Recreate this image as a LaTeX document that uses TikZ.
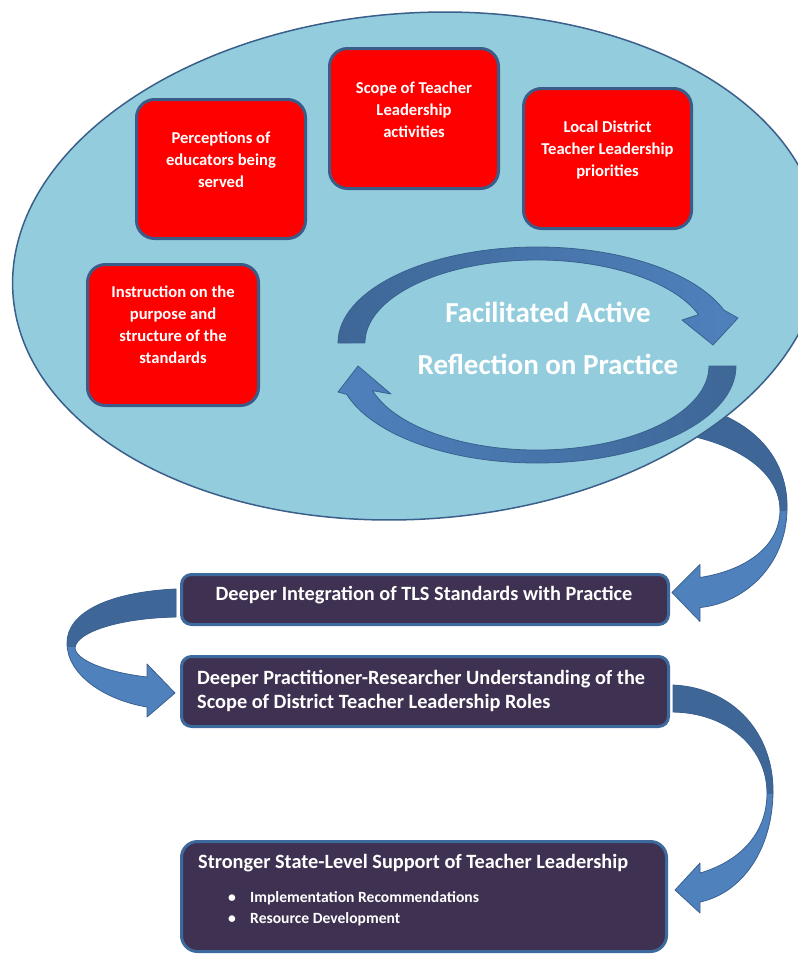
\documentclass[tikz,border=0pt]{standalone}
\usepackage{fontspec}
\setmainfont{Carlito}
\usetikzlibrary{shapes.geometric,calc}
\definecolor{ellfill}{HTML}{93CDDD}
\definecolor{ellline}{HTML}{3A5F8B}
\definecolor{boxred}{HTML}{FF0000}
\definecolor{redline}{HTML}{3B5C88}
\definecolor{boxpurple}{HTML}{3F3151}
\definecolor{purpleline}{HTML}{3D6A9C}
\definecolor{arrdark}{HTML}{3E6797}
\definecolor{arrlight}{HTML}{4F81BD}
\definecolor{arrline}{HTML}{3A6190}
\begin{document}
\begin{tikzpicture}[x=1pt,y=-1pt,
  redbox/.style={draw=redline, line width=3pt, fill=boxred, rounded corners=18pt, inner sep=0pt},
  redtext/.style={text=white, font=\bfseries\fontsize{16.6}{22}\selectfont, align=center, inner sep=0pt},
  darkbox/.style={draw=purpleline, line width=3pt, fill=boxpurple, rounded corners=10pt, inner sep=0pt},
  darktext/.style={text=white, font=\bfseries\fontsize{20.3}{24}\selectfont, inner sep=0pt},
  itemtext/.style={text=white, font=\bfseries\fontsize{15.6}{18}\selectfont, inner sep=0pt},
  bigtext/.style={text=white, font=\bfseries\fontsize{29}{52}\selectfont, inner sep=0pt},
  blockarrow/.style={draw=arrline, line width=0.8pt, line join=round}]
\useasboundingbox (0,0) rectangle (798,956);

% ---------- lower boxes ----------
\node[darkbox, minimum width=487pt, minimum height=50pt] (bA) at (425,599.5) {};
\node[darkbox, minimum width=487pt, minimum height=70pt] (bB) at (425,691.5) {};
\node[darkbox, minimum width=485pt, minimum height=110pt, rounded corners=16pt] (bC) at (424,896.5) {};

\node[darktext, anchor=base] (tA) at (424,600) {Deeper Integration of TLS Standards with Practice};
\node[darktext, anchor=base west] (tB1) at (197,684) {Deeper Practitioner-Researcher Understanding of the};
\node[darktext, anchor=base west] (tB2) at (197,708) {Scope of District Teacher Leadership Roles};
\node[darktext, anchor=base west] (tC) at (198,868) {Stronger State-Level Support of Teacher Leadership};
\node[itemtext, anchor=base west] (iC1) at (228,902) {\makebox[22pt][l]{\textbullet}Implementation Recommendations};
\node[itemtext, anchor=base west] (iC2) at (228,923) {\makebox[22pt][l]{\textbullet}Resource Development};

% ---------- connector: ellipse -> box A (behind the ellipse) ----------
\coordinate (c1start) at (640,415);
\coordinate (c1tip) at ($(bA.east)+(2,-7)$);
\path[save path=\pathCone]
  ($(c1start)+(0,-15)$) .. controls (740,400) and (789,450) .. (787,510)
  .. controls (786,565) and (745,603) .. ($(c1tip)+(28,15)$)
  -- ($(c1tip)+(28,29)$) -- (c1tip) -- ($(c1tip)+(28,-28)$) -- ($(c1tip)+(28,-15)$)
  .. controls (748,570) and (780,545) .. (780,510)
  .. controls (780,465) and (720,432) .. ($(c1start)+(0,15)$) -- cycle;
\path[use path=\pathCone, fill=arrlight];
\begin{scope}
  \clip (600,380) rectangle (800,510);
  \path[use path=\pathCone, fill=arrdark];
\end{scope}
\path[use path=\pathCone, blockarrow];

% ---------- connector: box A -> box B ----------
\coordinate (c2tip) at ($(bB.west)+(-5,1.5)$);
\path[save path=\pathCtwo]
  ($(bA.west)+(-4,-10.5)$) .. controls (110,592) and (67,612) .. (67,643)
  .. controls (67,675) and (105,700) .. ($(c2tip)+(-28,14)$)
  -- ($(c2tip)+(-28,24)$) -- (c2tip) -- ($(c2tip)+(-28,-29)$) -- ($(c2tip)+(-28,-16)$)
  .. controls (105,672) and (76,660) .. (75,648)
  .. controls (76,632) and (120,618) .. ($(bA.west)+(-4,17.5)$) -- cycle;
\path[use path=\pathCtwo, fill=arrlight];
\begin{scope}
  \clip (50,580) rectangle (180,646);
  \path[use path=\pathCtwo, fill=arrdark];
\end{scope}
\path[use path=\pathCtwo, blockarrow];

% ---------- connector: box B -> box C ----------
\coordinate (c3tip) at ($(bC.east)+(7,-6.5)$);
\path[save path=\pathCthree]
  ($(bB.east)+(3,-6.5)$) .. controls (735,688) and (774,735) .. (773,793)
  .. controls (772,850) and (742,893) .. ($(c3tip)+(25,12)$)
  -- ($(c3tip)+(25,23)$) -- (c3tip) -- ($(c3tip)+(25,-27)$) -- ($(c3tip)+(25,-17)$)
  .. controls (738,862) and (767,835) .. (767,793)
  .. controls (767,748) and (728,713) .. ($(bB.east)+(3,20.5)$) -- cycle;
\path[use path=\pathCthree, fill=arrlight];
\begin{scope}
  \clip (660,670) rectangle (800,793);
  \path[use path=\pathCthree, fill=arrdark];
\end{scope}
\path[use path=\pathCthree, blockarrow];

% ---------- big ellipse ----------
\node[draw=ellline, line width=1.5pt, fill=ellfill, ellipse, minimum width=810pt, minimum height=506pt, inner sep=0pt, rotate=4] (ell) at (417,266) {};

% ---------- red boxes ----------
\node[redbox, minimum width=169pt, minimum height=139pt] (r1) at (221,169) {};
\node[redbox, minimum width=169pt, minimum height=140pt] (r2) at (414,118.5) {};
\node[redbox, minimum width=168pt, minimum height=140pt] (r3) at (607.5,158.5) {};
\node[redbox, minimum width=171pt, minimum height=141pt] (r4) at (173,335) {};

\node[redtext] (t1) at (221,160) {Perceptions of\\educators being\\served};
\node[redtext] (t2) at (414,110) {Scope of Teacher\\Leadership\\activities};
\node[redtext] (t3) at (607.5,150) {Local District\\Teacher Leadership\\priorities};
\node[redtext] (t4) at (173,325) {Instruction on the\\purpose and\\structure of the\\standards};

% ---------- circular arrows ----------
\path[blockarrow, left color=arrdark, right color=arrlight]
  (338,343) arc[start angle=180, end angle=340, x radius=199, y radius=96]
  -- (738,318) -- (713,345) -- (682,320)
  -- (698.6,314.6) arc[start angle=340, end angle=180, x radius=172, y radius=83] -- cycle;
\path[blockarrow, left color=arrlight, right color=arrdark]
  (736,366) arc[start angle=0, end angle=163, x radius=199, y radius=97]
  -- (338,392) -- (358,366) -- (391,394)
  -- (372.5,390.6) arc[start angle=163, end angle=0, x radius=172, y radius=84] -- cycle;

\node[bigtext, anchor=base] (f1) at (548,322) {Facilitated Active};
\node[bigtext, anchor=base] (f2) at (548,374) {Reflection on Practice};
\end{tikzpicture}
\end{document}
